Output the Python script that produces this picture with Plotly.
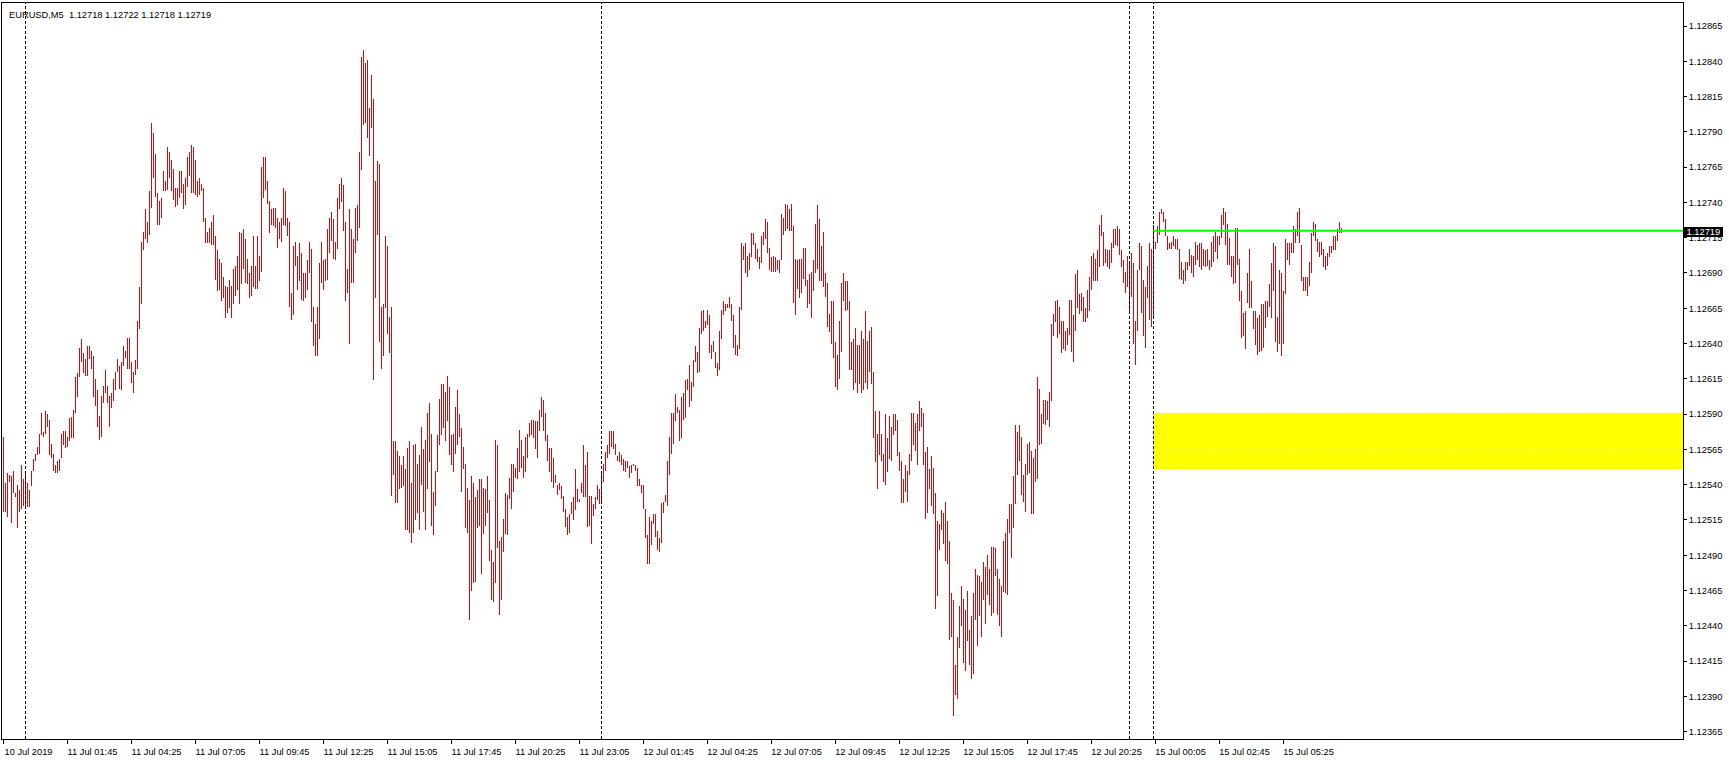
import plotly.graph_objects as go

chart_title = "EURUSD,M5\u00a0\u00a01.12718 1.12722 1.12718 1.12719"

# M5 bar highs / lows (EURUSD)
high = [
1.12574, 1.12541, 1.12548, 1.12547, 1.12546, 1.12550, 1.12534, 1.12540, 1.12536, 1.12554,
1.12544, 1.12550, 1.12541, 1.12536, 1.12550, 1.12558, 1.12562, 1.12567, 1.12576, 1.12591,
1.12577, 1.12592, 1.12590, 1.12586, 1.12569, 1.12562, 1.12554, 1.12557, 1.12558, 1.12576,
1.12578, 1.12578, 1.12574, 1.12587, 1.12588, 1.12593, 1.12616, 1.12619, 1.12637, 1.12643,
1.12633, 1.12629, 1.12638, 1.12638, 1.12635, 1.12631, 1.12615, 1.12607, 1.12589, 1.12603,
1.12610, 1.12621, 1.12610, 1.12603, 1.12605, 1.12615, 1.12620, 1.12629, 1.12624, 1.12627,
1.12638, 1.12635, 1.12644, 1.12644, 1.12627, 1.12620, 1.12628, 1.12656, 1.12680, 1.12712,
1.12719, 1.12735, 1.12726, 1.12748, 1.12796, 1.12789, 1.12774, 1.12747, 1.12741, 1.12743,
1.12762, 1.12755, 1.12779, 1.12776, 1.12770, 1.12764, 1.12750, 1.12750, 1.12762, 1.12762,
1.12753, 1.12757, 1.12772, 1.12776, 1.12781, 1.12779, 1.12770, 1.12755, 1.12757, 1.12753,
1.12750, 1.12729, 1.12719, 1.12722, 1.12726, 1.12731, 1.12716, 1.12706, 1.12700, 1.12697,
1.12687, 1.12681, 1.12680, 1.12685, 1.12681, 1.12693, 1.12695, 1.12702, 1.12719, 1.12718,
1.12721, 1.12714, 1.12700, 1.12690, 1.12695, 1.12716, 1.12695, 1.12716, 1.12702, 1.12765,
1.12772, 1.12772, 1.12755, 1.12741, 1.12735, 1.12736, 1.12736, 1.12729, 1.12726, 1.12729,
1.12750, 1.12748, 1.12729, 1.12726, 1.12676, 1.12709, 1.12712, 1.12702, 1.12711, 1.12704,
1.12690, 1.12690, 1.12699, 1.12712, 1.12707, 1.12666, 1.12654, 1.12666, 1.12697, 1.12712,
1.12699, 1.12700, 1.12721, 1.12729, 1.12733, 1.12728, 1.12712, 1.12743, 1.12753, 1.12757,
1.12752, 1.12726, 1.12693, 1.12735, 1.12721, 1.12714, 1.12736, 1.12738, 1.12776, 1.12843,
1.12848, 1.12839, 1.12841, 1.12807, 1.12830, 1.12813, 1.12755, 1.12769, 1.12767, 1.12666,
1.12668, 1.12716, 1.12709, 1.12659, 1.12666, 1.12571, 1.12571, 1.12564, 1.12560, 1.12554,
1.12560, 1.12551, 1.12566, 1.12571, 1.12541, 1.12568, 1.12569, 1.12555, 1.12561, 1.12581,
1.12565, 1.12572, 1.12591, 1.12598, 1.12576, 1.12535, 1.12550, 1.12575, 1.12601, 1.12611,
1.12611, 1.12606, 1.12617, 1.12609, 1.12575, 1.12576, 1.12595, 1.12607, 1.12590, 1.12580,
1.12567, 1.12555, 1.12538, 1.12529, 1.12546, 1.12541, 1.12531, 1.12536, 1.12544, 1.12544,
1.12538, 1.12537, 1.12546, 1.12529, 1.12494, 1.12485, 1.12572, 1.12568, 1.12500, 1.12503,
1.12516, 1.12534, 1.12533, 1.12545, 1.12555, 1.12555, 1.12552, 1.12566, 1.12579, 1.12572,
1.12560, 1.12574, 1.12576, 1.12584, 1.12586, 1.12586, 1.12585, 1.12585, 1.12593, 1.12602,
1.12600, 1.12591, 1.12575, 1.12566, 1.12566, 1.12559, 1.12547, 1.12540, 1.12541, 1.12539,
1.12532, 1.12523, 1.12517, 1.12519, 1.12528, 1.12531, 1.12551, 1.12537, 1.12530, 1.12541,
1.12568, 1.12554, 1.12563, 1.12532, 1.12532, 1.12526, 1.12531, 1.12540, 1.12537, 1.12550,
1.12555, 1.12563, 1.12568, 1.12578, 1.12578, 1.12578, 1.12569, 1.12560, 1.12563, 1.12561,
1.12558, 1.12557, 1.12557, 1.12553, 1.12554, 1.12555, 1.12554, 1.12552, 1.12544, 1.12540,
1.12540, 1.12523, 1.12504, 1.12517, 1.12514, 1.12519, 1.12519, 1.12507, 1.12502, 1.12527,
1.12528, 1.12533, 1.12557, 1.12574, 1.12591, 1.12591, 1.12604, 1.12595, 1.12593, 1.12602,
1.12605, 1.12614, 1.12615, 1.12625, 1.12613, 1.12628, 1.12638, 1.12634, 1.12651, 1.12663,
1.12664, 1.12656, 1.12664, 1.12660, 1.12639, 1.12642, 1.12634, 1.12626, 1.12649, 1.12664,
1.12670, 1.12668, 1.12668, 1.12673, 1.12668, 1.12660, 1.12646, 1.12639, 1.12666, 1.12711,
1.12709, 1.12711, 1.12702, 1.12704, 1.12718, 1.12718, 1.12711, 1.12707, 1.12701, 1.12716,
1.12719, 1.12728, 1.12726, 1.12708, 1.12701, 1.12702, 1.12701, 1.12699, 1.12699, 1.12732,
1.12729, 1.12739, 1.12738, 1.12735, 1.12739, 1.12723, 1.12700, 1.12699, 1.12700, 1.12700,
1.12708, 1.12708, 1.12685, 1.12689, 1.12691, 1.12699, 1.12725, 1.12738, 1.12728, 1.12709,
1.12719, 1.12690, 1.12683, 1.12661, 1.12670, 1.12670, 1.12641, 1.12632, 1.12656, 1.12683,
1.12690, 1.12684, 1.12684, 1.12670, 1.12641, 1.12643, 1.12651, 1.12639, 1.12639, 1.12649,
1.12643, 1.12663, 1.12642, 1.12649, 1.12652, 1.12620, 1.12592, 1.12576, 1.12592, 1.12576,
1.12562, 1.12590, 1.12573, 1.12589, 1.12581, 1.12590, 1.12590, 1.12586, 1.12563, 1.12557,
1.12544, 1.12554, 1.12550, 1.12562, 1.12591, 1.12591, 1.12584, 1.12590, 1.12599, 1.12594,
1.12591, 1.12563, 1.12567, 1.12551, 1.12560, 1.12552, 1.12534, 1.12514, 1.12512, 1.12522,
1.12520, 1.12528, 1.12514, 1.12500, 1.12463, 1.12458, 1.12412, 1.12432, 1.12454, 1.12468,
1.12459, 1.12451, 1.12465, 1.12437, 1.12447, 1.12463, 1.12480, 1.12476, 1.12475, 1.12471,
1.12485, 1.12482, 1.12490, 1.12480, 1.12496, 1.12496, 1.12495, 1.12480, 1.12473, 1.12468,
1.12500, 1.12506, 1.12516, 1.12526, 1.12526, 1.12546, 1.12582, 1.12577, 1.12582, 1.12574,
1.12547, 1.12555, 1.12569, 1.12570, 1.12564, 1.12559, 1.12565, 1.12616, 1.12608, 1.12590,
1.12600, 1.12600, 1.12599, 1.12606, 1.12654, 1.12661, 1.12670, 1.12671, 1.12666, 1.12656,
1.12656, 1.12649, 1.12651, 1.12671, 1.12671, 1.12660, 1.12689, 1.12692, 1.12675, 1.12676,
1.12673, 1.12665, 1.12678, 1.12687, 1.12702, 1.12704, 1.12700, 1.12706, 1.12724, 1.12731,
1.12719, 1.12707, 1.12706, 1.12706, 1.12711, 1.12721, 1.12721, 1.12723, 1.12721, 1.12706,
1.12699, 1.12691, 1.12702, 1.12697, 1.12704, 1.12697, 1.12656, 1.12692, 1.12711, 1.12709,
1.12685, 1.12680, 1.12695, 1.12711, 1.12707, 1.12724, 1.12712, 1.12723, 1.12733, 1.12735,
1.12733, 1.12728, 1.12716, 1.12711, 1.12712, 1.12716, 1.12714, 1.12714, 1.12707, 1.12698,
1.12692, 1.12698, 1.12698, 1.12707, 1.12703, 1.12702, 1.12712, 1.12710, 1.12711, 1.12711,
1.12707, 1.12706, 1.12707, 1.12699, 1.12712, 1.12716, 1.12719, 1.12716, 1.12716, 1.12731,
1.12736, 1.12733, 1.12725, 1.12715, 1.12702, 1.12702, 1.12722, 1.12722, 1.12700, 1.12677,
1.12662, 1.12663, 1.12690, 1.12707, 1.12684, 1.12663, 1.12663, 1.12658, 1.12660, 1.12668,
1.12668, 1.12670, 1.12670, 1.12682, 1.12697, 1.12711, 1.12709, 1.12659, 1.12692, 1.12690,
1.12677, 1.12714, 1.12711, 1.12711, 1.12711, 1.12723, 1.12721, 1.12733, 1.12736, 1.12710,
1.12687, 1.12687, 1.12687, 1.12698, 1.12718, 1.12726, 1.12725, 1.12714, 1.12712, 1.12712,
1.12707, 1.12702, 1.12704, 1.12709, 1.12709, 1.12716, 1.12716, 1.12721, 1.12726, 1.12722,
]

low = [
1.12521, 1.12521, 1.12517, 1.12542, 1.12513, 1.12534, 1.12531, 1.12509, 1.12521, 1.12523,
1.12525, 1.12523, 1.12524, 1.12524, 1.12539, 1.12550, 1.12557, 1.12561, 1.12562, 1.12575,
1.12574, 1.12576, 1.12581, 1.12561, 1.12559, 1.12550, 1.12548, 1.12548, 1.12550, 1.12559,
1.12568, 1.12566, 1.12567, 1.12571, 1.12573, 1.12573, 1.12591, 1.12602, 1.12616, 1.12627,
1.12619, 1.12617, 1.12617, 1.12629, 1.12622, 1.12602, 1.12596, 1.12581, 1.12572, 1.12574,
1.12598, 1.12605, 1.12598, 1.12581, 1.12594, 1.12599, 1.12607, 1.12620, 1.12608, 1.12607,
1.12624, 1.12630, 1.12622, 1.12622, 1.12612, 1.12605, 1.12618, 1.12622, 1.12650, 1.12668,
1.12706, 1.12714, 1.12711, 1.12717, 1.12736, 1.12757, 1.12744, 1.12724, 1.12724, 1.12729,
1.12748, 1.12748, 1.12749, 1.12757, 1.12748, 1.12742, 1.12737, 1.12738, 1.12743, 1.12747,
1.12735, 1.12738, 1.12751, 1.12759, 1.12747, 1.12747, 1.12745, 1.12744, 1.12745, 1.12748,
1.12726, 1.12711, 1.12711, 1.12711, 1.12710, 1.12710, 1.12685, 1.12677, 1.12678, 1.12670,
1.12672, 1.12658, 1.12662, 1.12665, 1.12658, 1.12668, 1.12674, 1.12678, 1.12668, 1.12682,
1.12693, 1.12683, 1.12682, 1.12672, 1.12674, 1.12680, 1.12679, 1.12679, 1.12684, 1.12691,
1.12743, 1.12749, 1.12739, 1.12718, 1.12724, 1.12723, 1.12722, 1.12708, 1.12714, 1.12712,
1.12724, 1.12723, 1.12716, 1.12666, 1.12657, 1.12660, 1.12695, 1.12678, 1.12684, 1.12671,
1.12670, 1.12672, 1.12678, 1.12690, 1.12655, 1.12638, 1.12631, 1.12631, 1.12643, 1.12683,
1.12678, 1.12684, 1.12685, 1.12704, 1.12713, 1.12700, 1.12699, 1.12707, 1.12735, 1.12740,
1.12720, 1.12670, 1.12676, 1.12640, 1.12683, 1.12683, 1.12704, 1.12713, 1.12722, 1.12763,
1.12795, 1.12796, 1.12786, 1.12773, 1.12793, 1.12614, 1.12672, 1.12717, 1.12641, 1.12622,
1.12631, 1.12665, 1.12647, 1.12633, 1.12532, 1.12547, 1.12527, 1.12527, 1.12537, 1.12538,
1.12539, 1.12508, 1.12508, 1.12506, 1.12499, 1.12506, 1.12515, 1.12520, 1.12508, 1.12540,
1.12521, 1.12508, 1.12537, 1.12556, 1.12511, 1.12504, 1.12525, 1.12549, 1.12568, 1.12575,
1.12580, 1.12571, 1.12585, 1.12561, 1.12554, 1.12549, 1.12562, 1.12568, 1.12574, 1.12535,
1.12551, 1.12509, 1.12506, 1.12444, 1.12465, 1.12470, 1.12471, 1.12509, 1.12511, 1.12477,
1.12505, 1.12511, 1.12520, 1.12486, 1.12458, 1.12457, 1.12470, 1.12495, 1.12448, 1.12458,
1.12492, 1.12505, 1.12504, 1.12530, 1.12523, 1.12535, 1.12545, 1.12544, 1.12549, 1.12552,
1.12545, 1.12549, 1.12559, 1.12574, 1.12575, 1.12573, 1.12565, 1.12559, 1.12578, 1.12588,
1.12578, 1.12571, 1.12557, 1.12549, 1.12542, 1.12538, 1.12541, 1.12533, 1.12536, 1.12530,
1.12521, 1.12510, 1.12504, 1.12506, 1.12519, 1.12515, 1.12522, 1.12528, 1.12528, 1.12534,
1.12531, 1.12531, 1.12510, 1.12511, 1.12498, 1.12518, 1.12523, 1.12529, 1.12526, 1.12527,
1.12542, 1.12550, 1.12559, 1.12562, 1.12567, 1.12565, 1.12561, 1.12557, 1.12556, 1.12554,
1.12550, 1.12549, 1.12552, 1.12545, 1.12548, 1.12553, 1.12550, 1.12539, 1.12539, 1.12534,
1.12523, 1.12502, 1.12484, 1.12484, 1.12497, 1.12512, 1.12503, 1.12494, 1.12492, 1.12499,
1.12520, 1.12528, 1.12525, 1.12547, 1.12562, 1.12569, 1.12585, 1.12591, 1.12571, 1.12573,
1.12586, 1.12587, 1.12607, 1.12595, 1.12599, 1.12609, 1.12627, 1.12619, 1.12620, 1.12647,
1.12649, 1.12651, 1.12653, 1.12633, 1.12629, 1.12634, 1.12623, 1.12617, 1.12621, 1.12643,
1.12660, 1.12663, 1.12665, 1.12665, 1.12656, 1.12637, 1.12632, 1.12631, 1.12636, 1.12664,
1.12699, 1.12690, 1.12687, 1.12692, 1.12701, 1.12710, 1.12700, 1.12698, 1.12693, 1.12697,
1.12710, 1.12714, 1.12704, 1.12692, 1.12691, 1.12691, 1.12691, 1.12692, 1.12690, 1.12699,
1.12717, 1.12720, 1.12721, 1.12720, 1.12720, 1.12669, 1.12660, 1.12679, 1.12672, 1.12676,
1.12686, 1.12681, 1.12665, 1.12668, 1.12658, 1.12677, 1.12690, 1.12693, 1.12684, 1.12684,
1.12680, 1.12673, 1.12652, 1.12648, 1.12640, 1.12630, 1.12609, 1.12607, 1.12615, 1.12634,
1.12670, 1.12663, 1.12664, 1.12621, 1.12621, 1.12607, 1.12612, 1.12605, 1.12611, 1.12605,
1.12607, 1.12612, 1.12608, 1.12620, 1.12611, 1.12573, 1.12556, 1.12537, 1.12561, 1.12557,
1.12542, 1.12540, 1.12549, 1.12558, 1.12557, 1.12575, 1.12578, 1.12560, 1.12550, 1.12527,
1.12527, 1.12535, 1.12528, 1.12547, 1.12557, 1.12568, 1.12564, 1.12554, 1.12578, 1.12581,
1.12554, 1.12516, 1.12520, 1.12537, 1.12525, 1.12519, 1.12452, 1.12461, 1.12494, 1.12508,
1.12498, 1.12486, 1.12484, 1.12430, 1.12432, 1.12376, 1.12391, 1.12388, 1.12424, 1.12440,
1.12414, 1.12408, 1.12429, 1.12412, 1.12402, 1.12406, 1.12444, 1.12426, 1.12447, 1.12432,
1.12458, 1.12441, 1.12462, 1.12455, 1.12447, 1.12449, 1.12475, 1.12448, 1.12440, 1.12432,
1.12464, 1.12463, 1.12462, 1.12506, 1.12488, 1.12509, 1.12526, 1.12547, 1.12557, 1.12533,
1.12528, 1.12521, 1.12547, 1.12548, 1.12519, 1.12519, 1.12542, 1.12544, 1.12568, 1.12569,
1.12583, 1.12582, 1.12586, 1.12581, 1.12599, 1.12645, 1.12655, 1.12644, 1.12647, 1.12633,
1.12636, 1.12635, 1.12639, 1.12646, 1.12634, 1.12627, 1.12649, 1.12665, 1.12661, 1.12663,
1.12655, 1.12655, 1.12658, 1.12663, 1.12678, 1.12684, 1.12684, 1.12684, 1.12694, 1.12716,
1.12695, 1.12697, 1.12694, 1.12693, 1.12697, 1.12708, 1.12710, 1.12709, 1.12703, 1.12694,
1.12683, 1.12676, 1.12680, 1.12663, 1.12673, 1.12640, 1.12625, 1.12649, 1.12692, 1.12662,
1.12645, 1.12637, 1.12672, 1.12657, 1.12652, 1.12658, 1.12707, 1.12711, 1.12717, 1.12732,
1.12726, 1.12716, 1.12706, 1.12707, 1.12707, 1.12709, 1.12707, 1.12706, 1.12686, 1.12685,
1.12682, 1.12684, 1.12692, 1.12695, 1.12690, 1.12687, 1.12696, 1.12699, 1.12694, 1.12692,
1.12695, 1.12694, 1.12695, 1.12692, 1.12694, 1.12698, 1.12705, 1.12700, 1.12710, 1.12715,
1.12724, 1.12710, 1.12696, 1.12696, 1.12687, 1.12682, 1.12683, 1.12696, 1.12670, 1.12644,
1.12645, 1.12636, 1.12669, 1.12665, 1.12665, 1.12650, 1.12639, 1.12632, 1.12634, 1.12635,
1.12637, 1.12651, 1.12659, 1.12666, 1.12658, 1.12677, 1.12641, 1.12634, 1.12640, 1.12631,
1.12640, 1.12675, 1.12699, 1.12696, 1.12704, 1.12704, 1.12711, 1.12716, 1.12711, 1.12684,
1.12677, 1.12677, 1.12674, 1.12681, 1.12690, 1.12716, 1.12713, 1.12705, 1.12701, 1.12703,
1.12694, 1.12692, 1.12695, 1.12701, 1.12704, 1.12706, 1.12706, 1.12713, 1.12718, 1.12718,
]

time_labels = ["10 Jul 2019", "11 Jul 01:45", "11 Jul 04:25", "11 Jul 07:05", "11 Jul 09:45",
               "11 Jul 12:25", "11 Jul 15:05", "11 Jul 17:45", "11 Jul 20:25", "11 Jul 23:05",
               "12 Jul 01:45", "12 Jul 04:25", "12 Jul 07:05", "12 Jul 09:45", "12 Jul 12:25",
               "12 Jul 15:05", "12 Jul 17:45", "12 Jul 20:25", "15 Jul 00:05", "15 Jul 02:45",
               "15 Jul 05:25"]
label_bars = [0, 32, 64, 96, 128, 160, 192, 224, 256, 288, 320, 352, 384, 416, 448,
              480, 512, 544, 576, 608, 640]
separator_bars = [11, 299, 563, 575]

price_ticks = [1.12365, 1.12390, 1.12415, 1.12440, 1.12465, 1.12490, 1.12515, 1.12540,
               1.12565, 1.12590, 1.12615, 1.12640, 1.12665, 1.12690, 1.12715, 1.12740,
               1.12765, 1.12790, 1.12815, 1.12840, 1.12865]

bid_price = 1.12719
level_price = 1.12720
zone_start_bar = 575
zone_low, zone_mid, zone_high = 1.12551, 1.12565, 1.12591

x_range = [-0.75, 839.75]
y_range = [1.123598, 1.128813]

FONT = "Liberation Sans"
BAR_COLOR = "#EE0000"

idx = list(range(len(high)))
spans = [h - l for h, l in zip(high, low)]

fig = go.Figure()
fig.add_trace(go.Bar(
    x=idx, y=spans, base=low, width=0.5,
    marker=dict(color=BAR_COLOR, line=dict(width=0)),
    hoverinfo="skip", showlegend=False,
))

shapes = []
# yellow zone
shapes.append(dict(type="rect", xref="x", yref="y", x0=zone_start_bar, x1=x_range[1],
                   y0=zone_low, y1=zone_high, fillcolor="#FFFF00", line=dict(width=0), layer="above"))
for yv in (zone_high, zone_mid):
    shapes.append(dict(type="line", xref="x", yref="y", x0=zone_start_bar, x1=x_range[1],
                       y0=yv, y1=yv, line=dict(color="white", width=1, dash="3px,2px")))
# period separators
for b in separator_bars:
    shapes.append(dict(type="line", xref="x", yref="paper", x0=b, x1=b, y0=0, y1=1,
                       line=dict(color="black", width=1, dash="3px,2px")))
shapes.append(dict(type="line", xref="x", yref="y", x0=zone_start_bar, x1=zone_start_bar,
                   y0=zone_low, y1=zone_high, line=dict(color="#0000FF", width=1, dash="3px,2px")))
# green level line
shapes.append(dict(type="line", xref="x", yref="y", x0=zone_start_bar, x1=x_range[1],
                   y0=level_price, y1=level_price, line=dict(color="#00FF00", width=2)))

annotations = [
    dict(xref="paper", yref="paper", x=0, y=1, xanchor="left", yanchor="top",
         xshift=5, yshift=-5, text=chart_title, showarrow=False,
         font=dict(family=FONT, size=9.3, color="black")),
    dict(xref="paper", yref="y", x=1, y=bid_price, xanchor="left", yanchor="middle",
         xshift=1, text="\u00a0" + f"{bid_price:.5f}" + "\u00a0", showarrow=False,
         bgcolor="black", borderpad=0, borderwidth=0,
         font=dict(family=FONT, size=9.3, color="white")),
]

fig.update_layout(
    width=1729, height=760,
    margin=dict(l=2, r=46, t=3, b=21, pad=0),
    paper_bgcolor="white", plot_bgcolor="white",
    showlegend=False, bargap=0, barmode="overlay",
    shapes=shapes, annotations=annotations,
    font=dict(family=FONT, size=9.3, color="black"),
)
fig.update_xaxes(
    range=x_range, tickmode="array", tickvals=label_bars, ticktext=time_labels,
    ticks="outside", ticklen=4, tickcolor="black", tickwidth=1,
    showline=True, linecolor="black", linewidth=1, mirror=True,
    showgrid=False, zeroline=False, ticklabelshift=25,
    tickfont=dict(family=FONT, size=9.3, color="black"),
)
fig.update_yaxes(
    side="right", range=y_range, tickmode="array", tickvals=price_ticks,
    ticktext=[f"{v:.5f}" for v in price_ticks],
    ticks="outside", ticklen=3, tickcolor="black", tickwidth=1,
    showline=True, linecolor="black", linewidth=1, mirror=True,
    showgrid=False, zeroline=False,
    tickfont=dict(family=FONT, size=9.3, color="black"),
)

fig.write_html("out.html", config={"displayModeBar": False},
               post_script="document.body.style.margin='0';document.body.style.overflow='hidden';")
